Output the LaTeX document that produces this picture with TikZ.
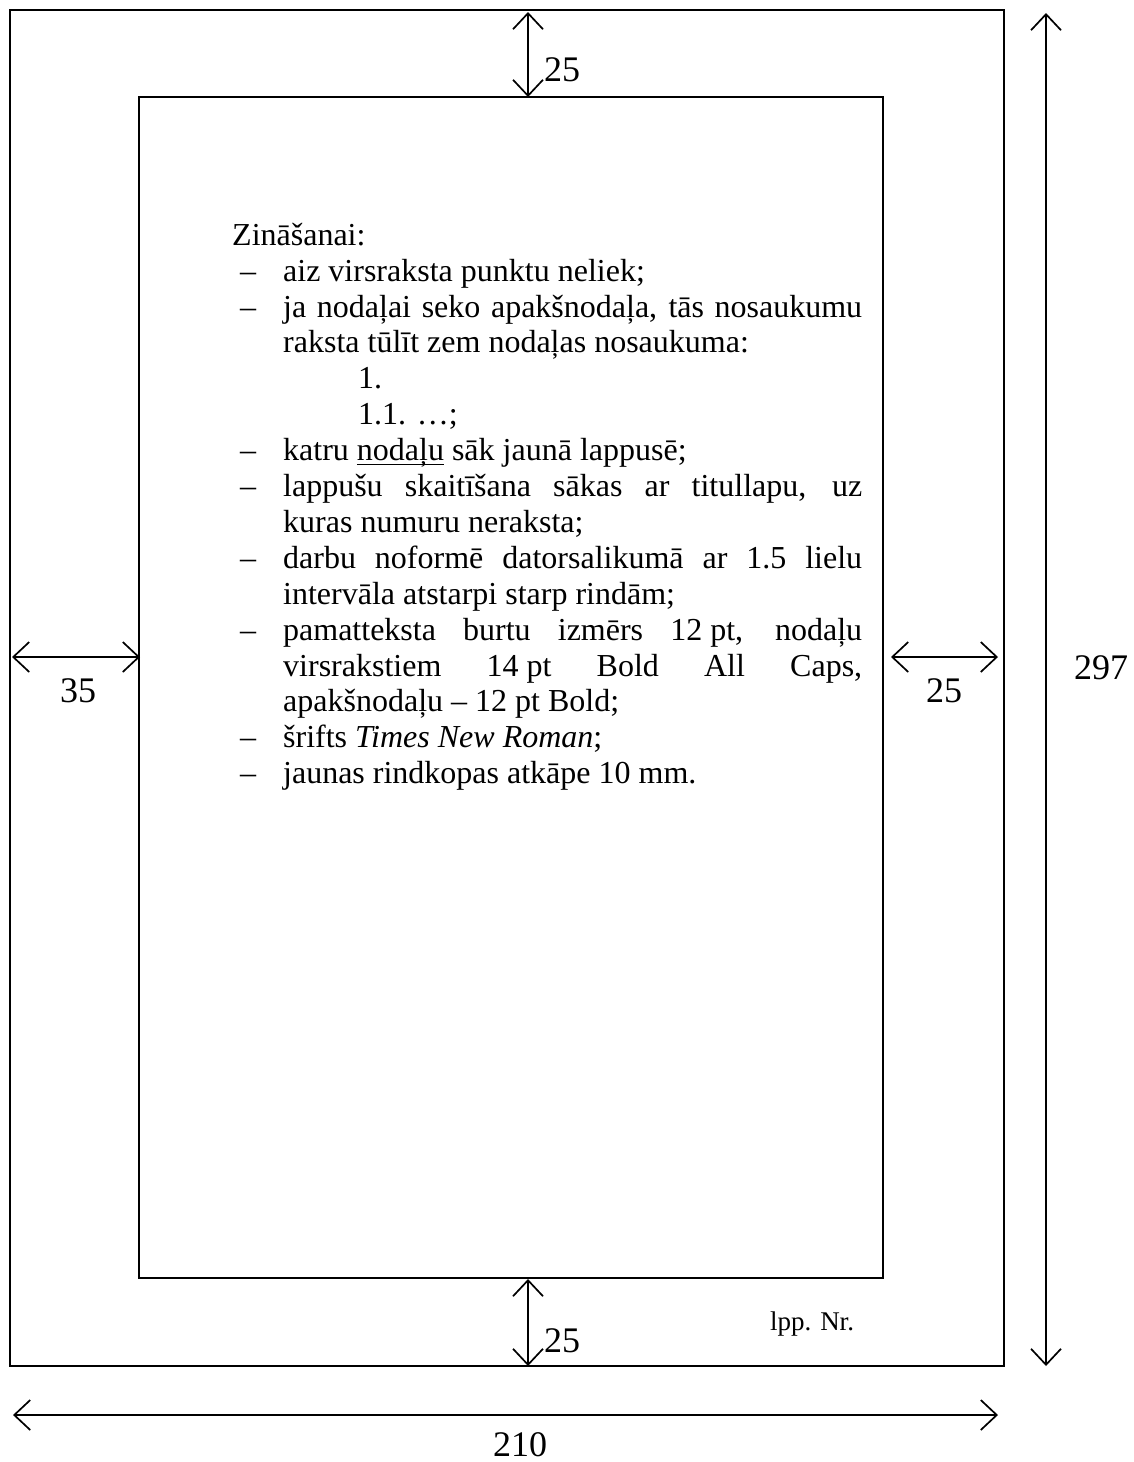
\documentclass[tikz,border=0pt]{standalone}
\usepackage{fontspec}
\setmainfont{Liberation Serif}
\usetikzlibrary{arrows.meta}
\newcommand\dashpre{\makebox[51pt][l]{\hspace*{8pt}–}}
\newcommand\justline[1]{\makebox[579pt][s]{#1}}
\newcommand\fixsp{\kern0.25em}
\newsavebox\ulbox
\newcommand\uline[1]{\sbox\ulbox{#1}\rlap{\rule[-4.5pt]{\wd\ulbox}{1.6pt}}\usebox\ulbox}
\begin{document}
\begin{tikzpicture}[x=1pt,y=-1pt,
  frame/.style={line width=1.8pt},
  dim/.style={line width=1.7pt,{Straight Barb[length=16pt,width=30pt]}-{Straight Barb[length=16pt,width=30pt]}},
  lbl/.style={font=\fontsize{36}{42}\selectfont,inner sep=0pt},
  body/.style={anchor=north west,inner sep=0pt,font=\fontsize{32}{35.9}\selectfont}]
\useasboundingbox (0,0) rectangle (1133,1462);
\draw[frame] (10,10) rectangle (1004,1366);
\draw[frame] (139,97) rectangle (883,1278);
% dimension end points
\coordinate (tA) at (528,12);   \coordinate (tB) at (528,97);
\coordinate (bA) at (528,1279); \coordinate (bB) at (528,1366);
\coordinate (lA) at (12,657);   \coordinate (lB) at (140,657);
\coordinate (rA) at (891,657);  \coordinate (rB) at (998,657);
\coordinate (vA) at (1046,13);  \coordinate (vB) at (1046,1366);
\coordinate (hA) at (13,1415);  \coordinate (hB) at (998,1415);
\draw[dim] (tA) -- (tB);
\draw[dim] (bA) -- (bB);
\draw[dim] (lA) -- (lB);
\draw[dim] (rA) -- (rB);
\draw[dim] (vA) -- (vB);
\draw[dim] (hA) -- (hB);
\node[lbl] (ltop) at (562,70) {25};
\node[lbl] (lbot) at (562,1341) {25};
\node[lbl] (lleft) at (78,691) {35};
\node[lbl] (lright) at (944,691) {25};
\node[lbl] (lh) at (1101,668) {297};
\node[lbl] (lw) at (520,1445) {210};
\node[font=\fontsize{27}{32}\selectfont,inner sep=0pt] (lpp) at (812,1324) {lpp. Nr.};
\node[body] (txt) at (232,220) {\begin{minipage}[t]{630pt}\parindent=0pt\parskip=0pt
\rule{0pt}{25pt}Zināšanai:\par
\dashpre aiz virsraksta punktu neliek;\par
\dashpre\justline{ja nodaļai seko apakšnodaļa, tās nosaukumu}\par
\hspace*{51pt}raksta tūlīt zem nodaļas nosaukuma:\par
\hspace*{126pt}1.\par
\hspace*{126pt}1.1. …;\par
\dashpre katru \uline{nodaļu} sāk jaunā lappusē;\par
\dashpre\justline{lappušu skaitīšana sākas ar titullapu, uz}\par
\hspace*{51pt}kuras numuru neraksta;\par
\dashpre\justline{darbu noformē datorsalikumā ar 1.5 lielu}\par
\hspace*{51pt}intervāla atstarpi starp rindām;\par
\dashpre\justline{pamatteksta burtu izmērs 12\fixsp pt, nodaļu}\par
\hspace*{51pt}\justline{virsrakstiem 14\fixsp pt Bold All Caps,}\par
\hspace*{51pt}apakšnodaļu – 12 pt Bold;\par
\dashpre šrifts \textit{Times New Roman};\par
\dashpre jaunas rindkopas atkāpe 10 mm.
\end{minipage}};
\end{tikzpicture}
\end{document}
